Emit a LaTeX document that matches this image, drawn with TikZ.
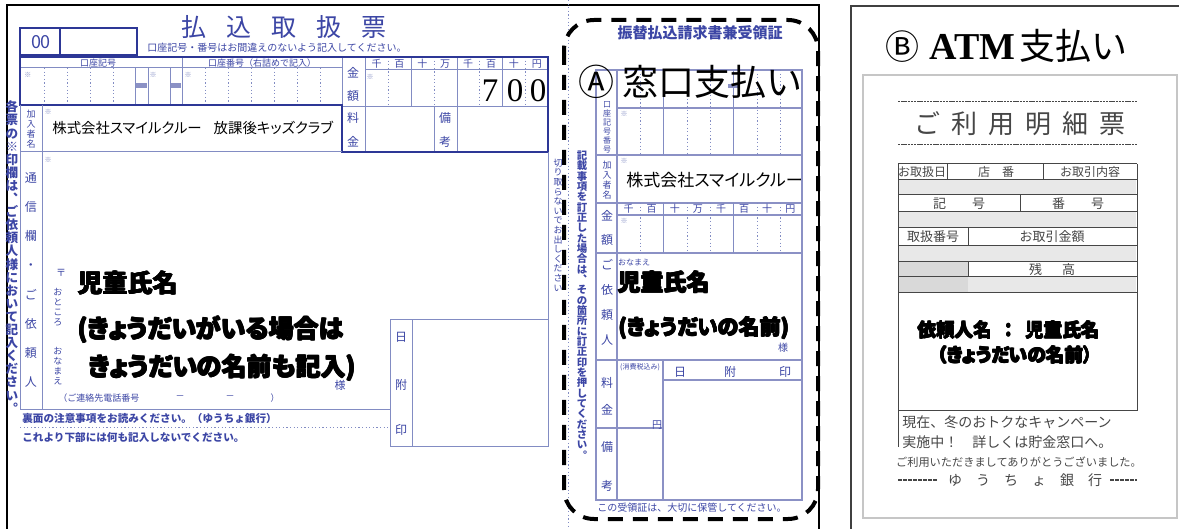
\documentclass[tikz,border=0pt]{standalone}
\usepackage{fontspec}
\setmainfont{Liberation Serif}
\newfontfamily\jp{Noto Sans CJK JP}
\newfontfamily\jpp{Noto Sans CJK JP}[RawFeature=+palt]
\newfontfamily\jph{Noto Sans CJK JP}[RawFeature=+palt]
\newcommand\fsz[1]{\fontsize{#1}{#1}\selectfont}
\newcommand\hvy[2]{\rlap{\kern#1\hbox{#2}}\rlap{\raise#1\hbox{#2}}\rlap{\raise#1\hbox{\kern#1#2}}\rlap{\raise0.5\dimexpr#1\relax\hbox{\kern0.5\dimexpr#1\relax#2}}\hbox{#2}}
\newcommand\vtstop{VTSTOP}
\newcommand\vt[2]{\vbox{\baselineskip=#1\relax\lineskiplimit=-100pt\relax\lineskip=0pt\relax\vtloop#2\vtstop}}
\def\vtloop#1{\ifx#1\vtstop\else\hbox to 1em{\hss#1\hss}\expandafter\vtloop\fi}
\definecolor{fb}{RGB}{45,55,150}
\definecolor{fl}{RGB}{130,140,195}
\definecolor{ft}{RGB}{60,70,165}
\definecolor{rg}{RGB}{70,70,70}
\begin{document}
\begin{tikzpicture}[x=0.5pt,y=-0.5pt,
  fthick/.style={draw=fb,line width=1.4pt},
  fthin/.style={draw=fl,line width=0.5pt},
  fdot/.style={draw=fl,line width=0.5pt,dash pattern=on 0.6pt off 1.2pt},
  rline/.style={draw=fb!55,line width=0.6pt},
  t/.style={inner sep=0pt,text=ft},
  g/.style={inner sep=0pt,text=rg},
  heavy/.style={inner sep=0pt,text=black},
  gline/.style={draw=rg,line width=0.5pt},
]
\useasboundingbox (0,0) rectangle (1179,529);
\fill[white] (0,0) rectangle (1179,529);

% ---------- frames ----------
\draw[black,line width=1.1pt] (7,540) -- (7,5) -- (819,5) -- (819,540);
\draw[black!75,line width=0.9pt] (851,540) -- (851,6) -- (1190,6);

% cut line
\draw[fdot] (568,0) -- (568,529);

% ---------- left form: top ----------
\draw[fthick] (20,28) rectangle (137,55);
\draw[fthick] (60,28) -- (60,55);
\node[t,font=\jp\fsz{9}] (zz) at (41,42) {00};
\node[t,font=\jp\fsz{12.5}] (title) at (284,27) {払\hspace{10pt}込\hspace{10pt}取\hspace{10pt}扱\hspace{10pt}票};
\node[t,font=\jp\fsz{5}] (sub) at (277,48) {口座記号・番号はお間違えのないよう記入してください。};

% account number area
\draw[fthin] (20,68) -- (342,68);
\draw[fthin] (182,57) -- (182,105);
\foreach \x in {135,148,170} \draw[fthin] (\x,68) -- (\x,105);
\foreach \x in {44,67,90,113,205,228,251,274,297,320} \draw[fdot] (\x,68) -- (\x,105);
\fill[fb!55] (136,83) rectangle (147,88);
\fill[fb!55] (171,83) rectangle (181,88);
\node[t,font=\jp\fsz{4.5}] (hk) at (98,63) {口座記号};
\node[t,font=\jp\fsz{4.5}] (hb) at (262,63) {口座番号（右詰めで記入）};
\node[t,font=\jp\fsz{3.5},text=fl] (as1) at (28,75) {※};
\node[t,font=\jp\fsz{3.5},text=fl] (as2) at (153,75) {※};
\node[t,font=\jp\fsz{3.5},text=fl] (as3) at (188,75) {※};
\node[t,font=\jp\fsz{3.5},text=fl] (as4) at (370,77) {※};
\node[t,font=\jp\fsz{3.5},text=fl] (as5) at (48,112) {※};
\node[t,font=\jp\fsz{3.5},text=fl] (as6) at (48,160) {※};

% amount area
\draw[fthin] (342,57) -- (342,105);
\draw[fthin] (365,57) -- (365,152);
\draw[fthin] (365,70) -- (548,70);
\draw[fthin] (342,107) -- (548,107);
\foreach \x in {411,457,502} \draw[fthin] (\x,57) -- (\x,107);
\foreach \x in {388,434,479,525} \draw[fdot] (\x,57) -- (\x,107);
\draw[fthin] (434,107) -- (434,152);
\draw[fthin] (457,107) -- (457,152);
\foreach \c [count=\i] in {千,百,十,万,千,百,十,円}
  \node[t,font=\jp\fsz{5}] (kh\i) at ({353.6+22.9*\i},64) {\c};
\node[inner sep=0pt,font=\fsz{16.5}] (d1) at (490,91) {7};
\node[inner sep=0pt,font=\fsz{16.5}] (d2) at (515,91) {0};
\node[inner sep=0pt,font=\fsz{16.5}] (d3) at (538,91) {0};
\node[t,font=\jp\fsz{6}] (lkin) at (353,73) {金};
\node[t,font=\jp\fsz{6}] (lgak) at (353,96) {額};
\node[t,font=\jp\fsz{6}] (lryo) at (353,118) {料};
\node[t,font=\jp\fsz{6}] (lkin2) at (353,142) {金};
\node[t,font=\jp\fsz{6}] (lbi) at (445,118) {備};
\node[t,font=\jp\fsz{6}] (lko) at (445,142) {考};

\draw[fthick] (20,105) -- (20,57) -- (548,57) -- (548,152) -- (342,152) -- (342,105) -- cycle;

% name row and lower area
\draw[fthin] (20,105) -- (20,410) -- (390,410);
\draw[fthin] (42,105) -- (42,410);
\draw[fthin] (20,152) -- (342,152);
\draw[fthin] (548,152) -- (548,320);
\draw[fthin] (390,320) rectangle (548,447);
\draw[fthin] (412,320) -- (412,447);
\draw[fdot] (20,428) -- (390,428);

\node[inner sep=0pt,anchor=west,font=\jpp\fsz{7.2}] (kanyu) at (52,128) {株式会社スマイルクルー\hspace{6pt}放課後キッズクラブ};
\node[t,font=\jp\fsz{4.5}] (kl) at (31,129) {\vt{5pt}{加入者名}};
\node[t,font=\jp\fsz{6}] (tsu) at (31,280) {\vt{14.6pt}{通信欄・ご依頼人}};
\node[t,font=\jp\bfseries\fsz{6.3}] (marg) at (12,257) {\vt{6.55pt}{各票の※印欄は︑ご依頼人様において記入ください︒}};
\node[t,font=\jp\fsz{5}] (yubin) at (61,273) {〒};
\node[t,font=\jp\fsz{4.5}] (otok) at (58,307) {\vt{5pt}{おところ}};
\node[t,font=\jp\fsz{4.5}] (onam) at (58,366) {\vt{5pt}{おなまえ}};
\node[t,font=\jp\fsz{4.5},anchor=west] (tel) at (58,398) {（ご連絡先電話番号};
\node[t,font=\jp\fsz{4.5}] (tel1) at (180,398) {－};
\node[t,font=\jp\fsz{4.5}] (tel2) at (230,398) {－};
\node[t,font=\jp\fsz{4.5}] (tel3) at (275,398) {）};
\node[t,font=\jp\fsz{5.5}] (sama) at (340,385) {様};
\node[t,font=\jp\bfseries\fsz{5.3},anchor=west] (ura) at (22,418) {裏面の注意事項をお読みください。（ゆうちょ銀行）};
\node[t,font=\jp\bfseries\fsz{5.3},anchor=west] (kore) at (22,437) {これより下部には何も記入しないでください。};
\node[t,font=\jp\fsz{6}] (hi) at (401,337) {日};
\node[t,font=\jp\fsz{6}] (fu) at (401,385) {附};
\node[t,font=\jp\fsz{6}] (in) at (401,430) {印};

\node[heavy,anchor=west,font=\jph\bfseries\fsz{12.5}] (jd1) at (77,283) {\hvy{0.45pt}{児童氏名}};
\node[heavy,anchor=west,font=\jph\bfseries\fsz{12.5}] (jd2) at (77,330) {\hvy{0.45pt}{(きょうだいがいる場合は}};
\node[heavy,anchor=west,font=\jph\bfseries\fsz{12.5}] (jd3) at (88,368) {\hvy{0.45pt}{きょうだいの名前も記入)}};

% ---------- middle vertical texts ----------
\node[t,font=\jp\fsz{4.5}] (kiri) at (558,225) {\vt{4.8pt}{切り取らないでお出しください}};
\node[t,font=\jp\bfseries\fsz{5.2}] (kisai) at (582,305) {\vt{5.17pt}{記載事項を訂正した場合は︑その箇所に訂正印を押してください︒}};

% ---------- receipt part ----------
\node[t,font=\jp\bfseries\fsz{7.5}] (rtitle) at (700,33) {振替払込請求書兼受領証};
\draw[rline] (596,70) rectangle (802,500);
\draw[rline] (617,70) -- (617,500);
\draw[rline] (617,108) -- (802,108);
\foreach \y in {155,203,253,360} \draw[rline] (596,\y) -- (802,\y);
\draw[rline] (617,215) -- (802,215);
\draw[rline] (596,428) -- (663,428);
\draw[rline] (663,360) -- (663,500);
\draw[rline] (663,380) -- (802,380);
\foreach \x in {663,733} {\draw[fthin] (\x,70) -- (\x,155); \draw[fthin] (\x,203) -- (\x,253);}
\foreach \x in {640,687,710,757,780} {\draw[fdot] (\x,70) -- (\x,155); \draw[fdot] (\x,203) -- (\x,253);}
\fill[fb!55] (728,84) rectangle (738,88);
\node[t,font=\jp\fsz{3.5},text=fl] (ras2) at (624,114) {※};
\node[t,font=\jp\fsz{3.5},text=fl] (ras3) at (624,161) {※};
\node[t,font=\jp\fsz{3.5},text=fl] (ras4) at (624,221) {※};
\foreach \c [count=\i] in {千,百,十,万,千,百,十,円}
  \node[t,font=\jp\fsz{5}] (rh\i) at ({605.5+23.1*\i},209) {\c};
\node[t,font=\jp\fsz{4}] (rkl) at (607,127) {\vt{4.5pt}{口座記号番号}};
\node[t,font=\jp\fsz{4.5}] (rkn) at (607,180) {\vt{5pt}{加入者名}};
\node[t,font=\jp\fsz{6}] (rkin) at (607,216) {金};
\node[t,font=\jp\fsz{6}] (rgak) at (607,240) {額};
\node[t,font=\jp\fsz{6}] (rirai) at (607,302) {\vt{12.5pt}{ご依頼人}};
\node[t,font=\jp\fsz{6}] (rryo) at (607,383) {料};
\node[t,font=\jp\fsz{6}] (rkin3) at (607,410) {金};
\node[t,font=\jp\fsz{6}] (rbi) at (607,447) {備};
\node[t,font=\jp\fsz{6}] (rko) at (607,486) {考};
\node[t,font=\jp\fsz{4}] (ronam) at (634,262) {おなまえ};
\node[t,font=\jp\fsz{5}] (rsama) at (783,348) {様};
\node[t,font=\jp\fsz{3.5}] (rzei) at (640,367) {(消費税込み)};
\node[t,font=\jp\fsz{6}] (rhi) at (680,372) {日};
\node[t,font=\jp\fsz{6}] (rfu) at (730,372) {附};
\node[t,font=\jp\fsz{6}] (rin) at (785,372) {印};
\node[t,font=\jp\fsz{5}] (ren) at (657,425) {円};
\node[t,font=\jp\fsz{5}] (rhokan) at (692,508) {この受領証は、大切に保管してください。};
\node[inner sep=0pt,anchor=west,font=\jpp\fsz{8.5}] (rkanyu) at (626,180) {株式会社スマイルクルー};
\node[heavy,anchor=west,font=\jph\bfseries\fsz{11.5}] (rj1) at (617,282) {\hvy{0.4pt}{児童氏名}};
\node[heavy,anchor=west,font=\jph\bfseries\fsz{10.5}] (rj2) at (618,328) {\hvy{0.4pt}{(きょうだいの名前)}};

% dashed frame and label A
\draw[black,line width=2pt,dash pattern=on 7.5pt off 5pt,rounded corners=15pt] (564,20) rectangle (818,519);
\node[inner sep=0pt,anchor=west,font=\jp\fsz{18}] (ma) at (578,82) {Ⓐ\hspace{4pt}窓口支払い};

% ---------- right panel (ATM) ----------
\node[inner sep=0pt,anchor=west] (mb) at (885,46) {\jp\fsz{17}Ⓑ\hspace{5pt}\rmfamily\bfseries\fsz{19}ATM\hspace{2pt}\jp\mdseries\fsz{18}支払い};
\draw[gray!45,line width=0.6pt] (863,75) rectangle (1177,518);
\draw[gline,dash pattern=on 1.2pt off 0.4pt] (898,102) -- (1137,102);
\draw[gline,dash pattern=on 1.2pt off 0.4pt] (898,145) -- (1137,145);
\node[g,font=\jp\fsz{13}] (meisai) at (1020,124) {ご\hspace{5.5pt}利\hspace{5.5pt}用\hspace{5.5pt}明\hspace{5.5pt}細\hspace{5.5pt}票};
% blurred bands
\foreach \a/\b in {180/195,212/228,246/262,277/293} \fill[gray!18] (899,\a) rectangle (1136,\b);
\fill[gray!30] (898,262) rectangle (968,293);
\foreach \y in {164,180,195,212,228,246,262,277,293} \draw[gline] (898,\y) -- (1137,\y);
\draw[gline] (898,164) -- (898,447);
\draw[gline] (1137,164) -- (1137,411);
\draw[gline] (898,411) -- (1137,411);
\draw[gline] (947,164) -- (947,180);
\draw[gline] (1043,164) -- (1043,180);
\draw[gline] (1020,195) -- (1020,212);
\draw[gline] (968,228) -- (968,246);
\draw[gline] (968,262) -- (968,277);
\node[g,font=\jp\fsz{6}] (a1) at (922,172) {お取扱日};
\node[g,font=\jp\fsz{6}] (a2) at (996,172) {店\hspace{6pt}番};
\node[g,font=\jp\fsz{6}] (a3) at (1090,172) {お取引内容};
\node[g,font=\jp\fsz{6.5}] (a4) at (959,204) {記\hspace{13pt}号};
\node[g,font=\jp\fsz{6.5}] (a5) at (1078,204) {番\hspace{13pt}号};
\node[g,font=\jp\fsz{6.5}] (a6) at (933,237) {取扱番号};
\node[g,font=\jp\fsz{6.5}] (a7) at (1052,237) {お取引金額};
\node[g,font=\jp\fsz{6.5}] (a8) at (1052,270) {残\hspace{10pt}高};
\node[heavy,anchor=west,font=\jph\bfseries\fsz{9.3}] (atm1) at (917,330) {\hvy{0.35pt}{依頼人名\hspace{6pt}：\hspace{6pt}児童氏名}};
\node[heavy,anchor=west,font=\jph\bfseries\fsz{9.3}] (atm2) at (937,355) {\hvy{0.35pt}{（きょうだいの名前）}};
\node[g,font=\jp\fsz{7},anchor=west] (camp1) at (902,422) {現在、冬のおトクなキャンペーン};
\node[g,font=\jp\fsz{7},anchor=west] (camp2) at (902,442) {実施中！　詳しくは貯金窓口へ。};
\node[g,font=\jp\fsz{5.6}] (thanks) at (1019,462) {ご利用いただきましてありがとうございました。};
\node[g,font=\jp\fsz{7}] (bank) at (1025,480) {ゆ\hspace{7pt}う\hspace{7pt}ち\hspace{7pt}ょ\hspace{7pt}銀\hspace{7pt}行};
\coordinate (bl1) at (898,480);
\coordinate (bl2) at (1137,480);
\draw[gline,line width=1pt,dash pattern=on 2pt off 0.5pt] (bl1) -- (bank.west-|937,480);
\draw[gline,line width=1pt,dash pattern=on 2pt off 0.5pt] (bank.east-|1110,480) -- (bl2);
\end{tikzpicture}
\end{document}
